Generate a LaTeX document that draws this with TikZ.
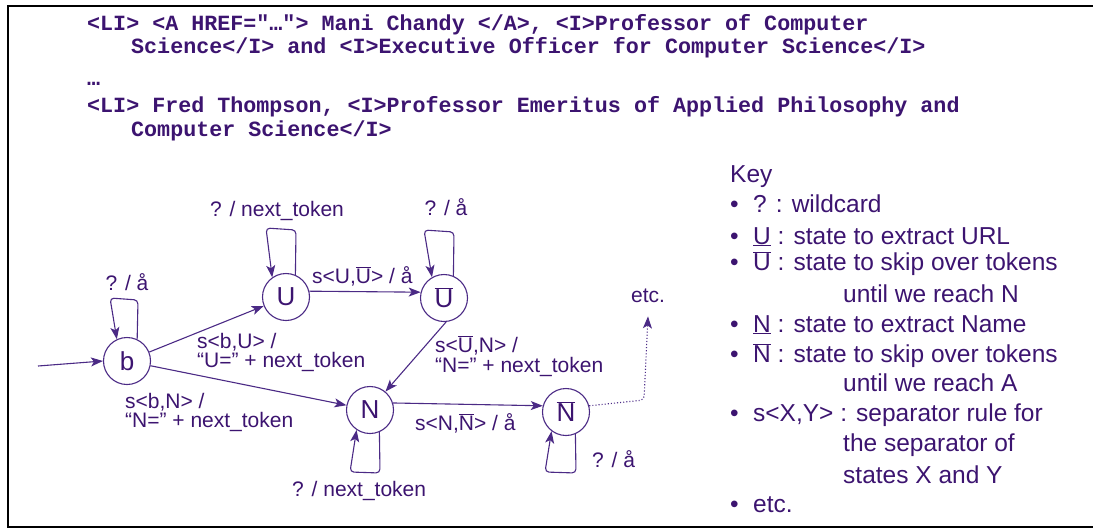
\documentclass[tikz,border=0pt]{standalone}
\usepackage{fontspec}
\setmainfont{Liberation Sans}
\newfontfamily\codefont{Liberation Mono}
\usetikzlibrary{arrows.meta}
\definecolor{ink}{HTML}{3C1470}
\definecolor{edge}{HTML}{4B2A85}
\newcommand\ovl[1]{\ensuremath{\overline{\hbox{#1}}}}
\newcommand\ntok{next\_token}
\tikzset{
  state/.style={circle,draw=edge,line width=1.1pt,minimum size=47pt,inner sep=0pt,text=ink,font=\fontsize{26}{30}\selectfont},
  arr/.style={draw=edge,line width=1.1pt,-{Stealth[length=12pt,width=9pt,inset=3pt]}},
  selfloop/.style={arr,rounded corners=4pt},
  lbl/.style={text=ink,font=\fontsize{21}{19}\selectfont,inner sep=0pt},
  code/.style={text=ink,font=\codefont\bfseries\fontsize{21.7}{26}\selectfont,inner sep=0pt,anchor=base west},
  keyline/.style={text=ink,font=\fontsize{24.5}{28}\selectfont,inner sep=0pt,anchor=base west},
  frameline/.style={draw=black,line width=2.5pt},
}
\newcommand\bul{\makebox[23pt][l]{\textbullet}}
\begin{document}
\begin{tikzpicture}[x=1pt,y=-1pt]
\useasboundingbox (0,0) rectangle (1093,528);
% frame
\draw[frameline] (1093,6) -- (8,6) -- (8,527) -- (1093,527);

% code text
\node[code] (c1) at (87,30) {<LI> <A HREF="…"> Mani Chandy </A>, <I>Professor of Computer};
\node[code] (c2) at (131,53) {Science</I> and <I>Executive Officer for Computer Science</I>};
\node[code] (c3) at (87,85) {…};
\node[code] (c4) at (87,112) {<LI> Fred Thompson, <I>Professor Emeritus of Applied Philosophy and};
\node[code] (c5) at (131,136) {Computer Science</I>};

% states
\node[state] (b) at (127,361) {b};
\node[state] (U) at (286,297) {U};
\node[state] (Ub) at (444,298) {\ovl{U}};
\node[state] (N) at (370,410) {N};
\node[state] (Nb) at (566,412) {\ovl{N}};
\node[lbl,anchor=base] (etc) at (648,302) {etc.};
\coordinate (start) at (38,366);

% edges
\draw[arr] (start) -- (b.west);
\draw[arr] (b) -- (U);
\draw[arr] (b) -- (N);
\draw[arr] (U.14) -- (Ub.166);
\draw[arr] (Ub.-85) -- (N.50);
\draw[arr] (N.17) -- (Nb.165);
\draw[arr,dotted,rounded corners=4pt] (Nb.15) -- (644,400) -- ([yshift=-14pt]etc.south);

% self loops
\draw[selfloop] (b.65) -- (138,300) -- (110,298) -- (b.115);
\draw[selfloop] (U.67) -- (296,230) -- (266,228) -- (U.125);
\draw[selfloop] (Ub.67) -- (454,232) -- (424,230) -- (Ub.120);
\draw[selfloop] (N.-67) -- (380,473) -- (350,472) -- (N.-124);
\draw[selfloop] (Nb.-67) -- (576,473) -- (545,472) -- (Nb.-127);

% labels
\node[lbl,anchor=base] (lb) at (127,290) {? / å};
\node[lbl,anchor=base] (lU) at (277,216) {? / \ntok};
\node[lbl,anchor=base] (lUb) at (446,215) {? / å};
\node[lbl,anchor=base west] (lUUb) at (312,283) {s<U,\ovl{U}> / å};
\node[lbl,anchor=base west] (lbU1) at (197,348) {s<b,U> /};
\node[lbl,anchor=base west] (lbU2) at (197,367) {“U=” + \ntok};
\node[lbl,anchor=base west] (lbN1) at (125,408) {s<b,N> /};
\node[lbl,anchor=base west] (lbN2) at (125,427) {“N=” + \ntok};
\node[lbl,anchor=base west] (lUbN1) at (435,352) {s<\ovl{U},N> /};
\node[lbl,anchor=base west] (lUbN2) at (435,372) {“N=” + \ntok};
\node[lbl,anchor=base west] (lNNb) at (415,430) {s<N,\ovl{N}> / å};
\node[lbl,anchor=base west] (lNb) at (592,467) {? / å};
\node[lbl,anchor=base west] (lN) at (292,496) {? / \ntok};

% key
\node[keyline] (k0) at (730,182) {Key};
\node[keyline] (k1) at (730,212) {\bul? : wildcard};
\node[keyline] (k2) at (730,244) {\bul\underline{U} : state to extract URL};
\node[keyline] (k3) at (730,270) {\bul\ovl{U} : state to skip over tokens};
\node[keyline] (k4) at (843,302) {until we reach N};
\node[keyline] (k5) at (730,332) {\bul\underline{N} : state to extract Name};
\node[keyline] (k6) at (730,362) {\bul\ovl{N} : state to skip over tokens};
\node[keyline] (k7) at (843,391) {until we reach A};
\node[keyline] (k8) at (730,421) {\bul s<X,Y> : separator rule for};
\node[keyline] (k9) at (843,451) {the separator of};
\node[keyline] (k10) at (843,483) {states X and Y};
\node[keyline] (k11) at (730,512) {\bul etc.};
\end{tikzpicture}
\end{document}
